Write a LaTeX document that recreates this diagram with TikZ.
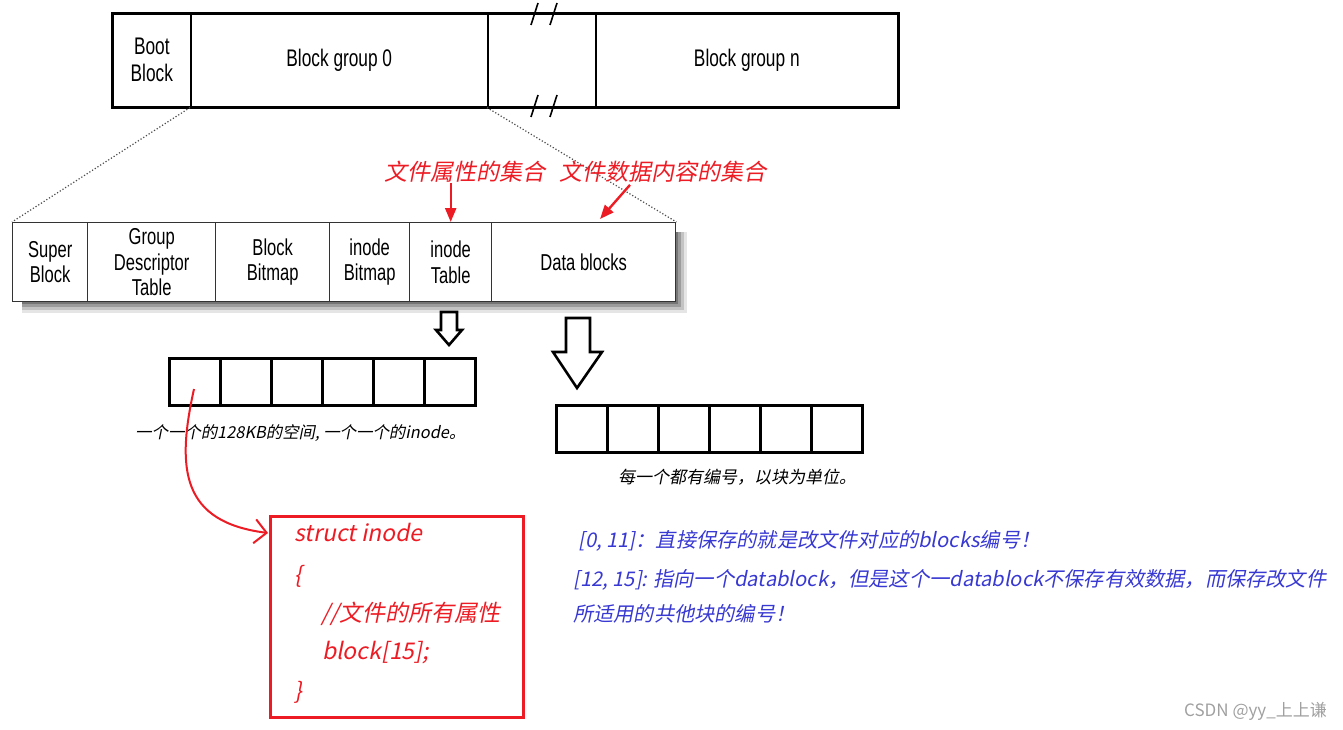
\documentclass[tikz,border=0pt]{standalone}
\usepackage{fontspec}
\usetikzlibrary{arrows.meta,calc}
\newfontfamily\cjk{Noto Sans CJK SC}[FakeSlant=0.2]
\newfontfamily\cjkup{Noto Sans CJK SC}
\newfontfamily\cond{Liberation Sans}[FakeStretch=0.72]
\definecolor{myred}{RGB}{237,28,36}
\definecolor{myblue}{RGB}{56,56,210}
\definecolor{wmgray}{RGB}{160,160,160}
\begin{document}
\begin{tikzpicture}[x=1pt,y=-1pt,
  topcell/.style={draw=black, line width=1.6pt, inner sep=0pt, anchor=north west, minimum height=93pt,
     font=\cond\fontsize{24}{27}\selectfont, align=center},
  gcell/.style={draw=black!80, line width=1.4pt, inner sep=0pt, anchor=north west, minimum height=79pt,
     font=\cond\fontsize{23}{25.5}\selectfont, align=center, fill=white},
  slot/.style={draw=black, line width=2.6pt, inner sep=0pt, anchor=north west, minimum width=51pt, minimum height=47pt},
  hollow/.style={draw=black, line width=2.6pt, fill=white, line join=miter},
  redlab/.style={text=myred, font=\cjk\fontsize{23}{26}\selectfont, inner sep=0pt},
  redarr/.style={draw=myred, line width=2.4pt, -{Triangle[length=14pt,width=11pt]}},
  note/.style={font=\cjk\fontsize{16.4}{19}\selectfont, inner sep=0pt, anchor=west},
  code/.style={text=myred, font=\cjk\fontsize{23}{26}\selectfont, inner sep=0pt, anchor=west},
  blue/.style={text=myblue, font=\cjk\fontsize{20.2}{23}\selectfont, inner sep=0pt, anchor=west},
  dots/.style={draw=black!70, dotted, line width=1.2pt},
  brk/.style={draw=black, line width=1.6pt}
]
\useasboundingbox (0,0) rectangle (1343,730);

% ---- top bar
\node[topcell, minimum width=78pt] (boot) at (112,13) {Boot\\Block};
\node[topcell, minimum width=297pt] (bg0) at (190,13) {Block group 0};
\node[topcell, minimum width=108pt] (gap) at (487,13) {};
\node[topcell, minimum width=302pt] (bgn) at (595,13) {Block group n};
\draw[line width=2.8pt] (boot.north west) rectangle (bgn.south east);
% break marks
\coordinate (b1a) at (531,25); \coordinate (b1b) at (538,3);
\coordinate (b2a) at (550,25); \coordinate (b2b) at (557,3);
\coordinate (b3a) at (531,117); \coordinate (b3b) at (538,95);
\coordinate (b4a) at (550,117); \coordinate (b4b) at (557,95);
\draw[brk] (b1a) -- (b1b); \draw[brk] (b2a) -- (b2b);
\draw[brk] (b3a) -- (b3b); \draw[brk] (b4a) -- (b4b);

% ---- shadow of the group bar
\foreach \s/\o in {12/0.10,9/0.15,6/0.2,3/0.25}{
  \fill[black, opacity=\o] (22,232) rectangle ($(675,301)+(\s,\s)$);
}

% ---- group bar
\node[gcell, minimum width=75pt] (sb) at (12,222) {Super\\Block};
\node[gcell, minimum width=128pt] (gdt) at (87,222) {Group\\Descriptor\\Table};
\node[gcell, minimum width=114pt] (bbm) at (215,222) {Block\\Bitmap};
\node[gcell, minimum width=80pt] (ibm) at (329,222) {inode\\Bitmap};
\node[gcell, minimum width=82pt] (ino) at (409,222) {inode\\Table};
\node[gcell, minimum width=184pt] (db) at (491,222) {Data blocks};

% dotted zoom lines
\draw[dots] (bg0.south west) -- (sb.north west);
\draw[dots] (gap.south west) -- (db.north east);

% red labels and arrows
\node[redlab] (lab1) at (465,172) {文件属性的集合};
\node[redlab] (lab2) at (663,172) {文件数据内容的集合};
\draw[redarr] (lab1.south -| ino.north) -- (ino.north);
\coordinate (dbtop) at (600,219);
\draw[redarr] ($(lab2.south)+(-33,2)$) -- (dbtop);

% hollow arrows
\draw[hollow] (441,312) -- (457,312) -- (457,330) -- (462,330) -- (449,345) -- (436,330) -- (441,330) -- cycle;
\draw[hollow] (566,318) -- (590,318) -- (590,352) -- (602,352) -- (577,388) -- (553,352) -- (566,352) -- cycle;

% inode slots
\foreach \i in {1,...,6}{
  \node[slot] (i\i) at ({168+51*(\i-1)},357) {};
}
% data slots
\foreach \i in {1,...,6}{
  \node[slot] (d\i) at ({555+51*(\i-1)},404) {};
}

\node[note] (t1) at (135,433) {一个一个的128KB的空间, 一个一个的inode。};
\node[note, font=\cjk\fontsize{17}{20}\selectfont] (t2) at (618,477) {每一个都有编号，以块为单位。};

% red struct box
\node[draw=myred, line width=2.6pt, anchor=north west, minimum width=253pt, minimum height=201pt, inner sep=0pt] (box) at (269,515) {};
\node[code] (c1) at (294,532) {struct inode};
\node[code] (c2) at (294,576) {\{};
\node[code] (c3) at (321,614) {//文件的所有属性};
\node[code] (c4) at (322,653) {block[15];};
\node[code] (c5) at (294,692) {\}};

% red curved arrow
\coordinate (rs) at (194,389);
\coordinate (re) at ($(box.north west)+(-1,18)$);
\draw[myred, line width=2pt, -{Straight Barb[length=12pt,width=24pt,line width=2pt]}]
  (rs) .. controls (176,470) and (182,522) .. (re);

% blue notes
\node[blue] (n1) at (578,541) {[0, 11]：直接保存的就是改文件对应的blocks编号！};
\node[blue] (n2) at (573,580) {[12, 15]: 指向一个datablock，但是这个一datablock不保存有效数据，而保存改文件};
\node[blue] (n3) at (573,614) {所适用的共他块的编号！};

% watermark
\node[text=wmgray, font=\cjkup\fontsize{17}{19}\selectfont, inner sep=0pt, anchor=east] (wm) at (1327,711) {CSDN @yy\_上上谦};
\end{tikzpicture}
\end{document}
